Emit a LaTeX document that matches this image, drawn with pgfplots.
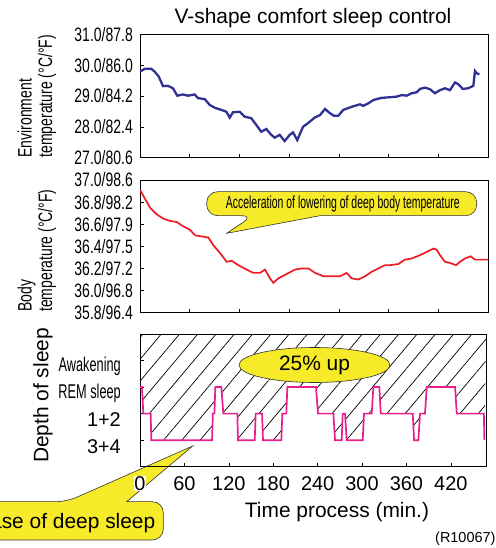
\documentclass[border=0pt]{standalone}
\usepackage{fontspec}
\setmainfont{Liberation Sans}
\newfontfamily\condfont[FakeStretch=0.72]{Liberation Sans}
\newfontfamily\tightfont[FakeStretch=0.64]{Liberation Sans}
\newfontfamily\narrowfont[FakeStretch=0.6]{Liberation Sans}
\usepackage{pgfplots}
\pgfplotsset{compat=1.18}
\usepackage{pgfplotstable}
\usetikzlibrary{patterns.meta}

\definecolor{envblue}{RGB}{46,49,146}
\definecolor{bodyred}{RGB}{237,28,36}
\definecolor{sleeppink}{RGB}{232,30,140}
\definecolor{calloutyellow}{RGB}{247,234,40}

% environment temperature (deg C) vs time (min)
\pgfplotstableread{
t    temp
0.0  29.79
5.7  29.88
13.6 29.88
17.7 29.79
22.6 29.63
27.8 29.32
33.8 29.33
39.8 29.25
45.0 29.01
51.9 29.05
57.9 29.01
66.0 29.05
70.0 28.93
78.1 28.90
84.1 28.71
90.2 28.62
98.1 28.55
104.2 28.49
108.3 28.30
112.2 28.47
120.3 28.49
126.4 28.33
134.3 28.28
140.4 28.06
146.4 27.84
152.4 27.93
158.5 27.74
162.6 27.65
168.6 27.74
174.6 27.54
180.7 27.74
184.7 27.82
189.8 27.57
196.7 28.00
202.8 28.12
210.8 28.30
214.8 28.35
217.2 28.38
223.3 28.58
229.3 28.44
234.1 28.36
239.3 28.36
245.4 28.55
255.5 28.65
265.5 28.73
269.5 28.68
275.5 28.76
281.6 28.87
291.7 28.94
301.7 28.96
309.8 28.98
315.8 29.03
321.9 29.01
327.9 29.09
333.9 29.12
337.9 29.23
344.0 29.27
350.0 29.22
356.0 29.09
362.1 29.19
368.1 29.25
374.1 29.19
380.2 29.44
384.2 29.38
389.5 29.23
396.2 29.25
402.3 29.33
404.3 29.81
406.3 29.74
409.5 29.70
}\envtemp

% body temperature (deg C) vs time (min)
\pgfplotstableread{
t    temp
0.0  36.91
6.0  36.83
12.1 36.75
20.1 36.69
28.2 36.65
36.2 36.63
44.3 36.62
52.3 36.58
60.3 36.55
66.4 36.50
74.4 36.49
82.5 36.48
88.5 36.41
96.6 36.34
104.6 36.26
110.6 36.27
118.7 36.23
128.7 36.19
136.8 36.16
144.8 36.16
150.9 36.19
156.9 36.11
160.9 36.07
166.9 36.11
177.0 36.15
187.1 36.19
195.1 36.20
203.2 36.20
211.2 36.16
221.3 36.13
233.3 36.13
241.4 36.13
249.4 36.16
255.5 36.11
263.5 36.10
271.6 36.13
279.6 36.17
287.6 36.20
295.7 36.23
301.7 36.23
311.8 36.24
319.8 36.28
327.9 36.29
337.9 36.32
346.0 36.35
354.0 36.38
358.1 36.37
362.1 36.32
368.1 36.26
374.1 36.25
381.4 36.23
386.2 36.26
392.2 36.29
399.1 36.31
404.3 36.28
410.3 36.28
420.0 36.28
}\bodytemp

% depth of sleep: 1 = 3+4, 2 = 1+2, 3 = REM, 4 = awakening
\pgfplotstableread{
t     depth
0.0   3
2.7   3
4.5   2
14.4  2
15.3  1
97.3  1
98.5  2
100.5 2
101.8 3
109.9 3
112.6 2
131.5 2
132.4 1
155.0 1
156.3 2
164.9 2
166.2 1
191.0 1
192.3 2
197.7 2
199.1 3
237.8 3
240.5 2
261.3 2
263.5 1
272.5 1
273.9 2
277.0 2
279.3 1
300.9 1
302.7 2
313.1 2
315.3 3
323.4 3
325.3 2
368.5 2
370.3 1
376.1 1
378.4 2
385.1 2
387.4 3
425.7 3
428.0 2
464.6 2
465.3 1
}\sleepdepth

\pgfplotsset{
  panel/.style={
    scale only axis,
    anchor=south west,
    axis line style={line width=0.8bp},
    tick align=inside,
    xtick pos=left,
    ytick pos=left,
    major tick length=4bp,
    tick style={black, line width=0.6bp},
  },
  condticks/.style={
    yticklabel style={font=\condfont\fontsize{19.5}{21}\selectfont, inner sep=0pt, xshift=-7bp},
  },
}

\begin{document}
\begin{tikzpicture}
\clip (0,0) rectangle (496bp,548bp);

\node[font=\fontsize{21}{24}\selectfont] at (313bp,530bp) {V-shape comfort sleep control};

% environment temperature
\begin{axis}[panel, condticks,
  at={(140bp,390.3bp)}, width=348bp, height=123.4bp,
  xmin=0, xmax=420, ymin=27, ymax=31,
  xtick={60,120,...,360}, xticklabels={},
  ytick={27,28,29,30,31},
  yticklabels={27.0/80.6,28.0/82.4,29.0/84.2,30.0/86.0,31.0/87.8},
]
\addplot[envblue, line width=2.3bp] table[x=t, y=temp] {\envtemp};
\end{axis}

% body temperature
\begin{axis}[panel, condticks,
  at={(140bp,235.3bp)}, width=348bp, height=132.7bp,
  xmin=0, xmax=420, ymin=35.8, ymax=37.0,
  xtick={60,120,...,360}, xticklabels={},
  ytick={35.8,36.0,36.2,36.4,36.6,36.8,37.0},
  yticklabels={35.8/96.4,36.0/96.8,36.2/97.2,36.4/97.5,36.6/97.9,36.8/98.2,37.0/98.6},
]
\addplot[bodyred, line width=1.7bp] table[x=t, y=temp] {\bodytemp};
\end{axis}

\filldraw[fill=calloutyellow, draw=black!80, line width=0.6bp]
  (253bp,332.3bp) -- (226.7bp,314.7bp) -- (320bp,332.3bp)
  [rounded corners=11bp] -- (476.7bp,332.3bp) -- (476.7bp,356.3bp)
  -- (206.7bp,356.3bp) -- (206.7bp,332.3bp) -- cycle;
\node[font=\narrowfont\fontsize{17.5}{19}\selectfont] at (342.8bp,343.8bp)
  {Acceleration of lowering of deep body temperature};

% callout for deep sleep (drawn under the lower axis, cut at the left edge)
\filldraw[overlay, fill=calloutyellow, draw=black!80, line width=0.6bp]
  (66.7bp,46.3bp) -- (192.7bp,102bp) -- (126.7bp,46.3bp)
  [rounded corners=11bp] -- (163.3bp,46.3bp) -- (163.3bp,8bp)
  -- (-30bp,8bp) -- (-30bp,46.3bp) -- cycle;
\node[overlay, font=\fontsize{21}{24}\selectfont, anchor=east, inner sep=0pt] at (155.5bp,25bp)
  {Increase of deep sleep};

% depth of sleep
\begin{axis}[panel,
  at={(140bp,81.3bp)}, width=346bp, height=132.7bp,
  xmin=0, xmax=467.5, ymin=0, ymax=5,
  xtick={0,60,...,420},
  /pgf/number format/assume math mode=true,
  xticklabel style={font=\fontsize{20}{22}\selectfont, inner sep=0pt, yshift=-9.5bp, fill=white},
  ytick={1,2,3,4},
  yticklabels={3+4,1+2,{\tightfont REM sleep},{\tightfont Awakening}},
  yticklabel style={font=\fontsize{20}{22}\selectfont, inner sep=0pt, xshift=-19bp, yshift=-6bp},
]
\addplot[pattern={Lines[angle=50, distance=14bp, line width=0.7bp]}, draw=none]
  table[x=t, y=depth] {\sleepdepth} -- (axis cs:467.5,5) -- (axis cs:0,5) -- cycle;
\addplot[sleeppink, line width=1.7bp] table[x=t, y=depth] {\sleepdepth};
\end{axis}

\filldraw[fill=calloutyellow, draw=black!80, line width=0.6bp]
  (314.5bp,183bp) ellipse [x radius=75.5bp, y radius=17.5bp];
\node[font=\fontsize{21}{24}\selectfont] at (314.5bp,182.5bp) {25\% up};

% axis titles
\node[font=\condfont\fontsize{19.5}{21}\selectfont, rotate=90, anchor=base west, inner sep=0pt]
  at (31.5bp,390.3bp) {Environment};
\node[font=\condfont\fontsize{19.5}{21}\selectfont, rotate=90, anchor=base west, inner sep=0pt]
  at (52bp,390.3bp) {temperature (°C/°F)};
\node[font=\condfont\fontsize{19.5}{21}\selectfont, rotate=90, anchor=base west, inner sep=0pt]
  at (31.5bp,236bp) {Body};
\node[font=\condfont\fontsize{19.5}{21}\selectfont, rotate=90, anchor=base west, inner sep=0pt]
  at (52bp,236bp) {temperature (°C/°F)};
\node[font=\fontsize{21}{24}\selectfont, rotate=90] at (43bp,152.5bp) {Depth of sleep};
\node[font=\fontsize{21}{24}\selectfont] at (337bp,36bp) {Time process (min.)};
\node[overlay, font=\fontsize{14.5}{16}\selectfont, anchor=west, inner sep=0pt] at (435bp,9.5bp) {(R10067)};
\end{tikzpicture}
\end{document}
